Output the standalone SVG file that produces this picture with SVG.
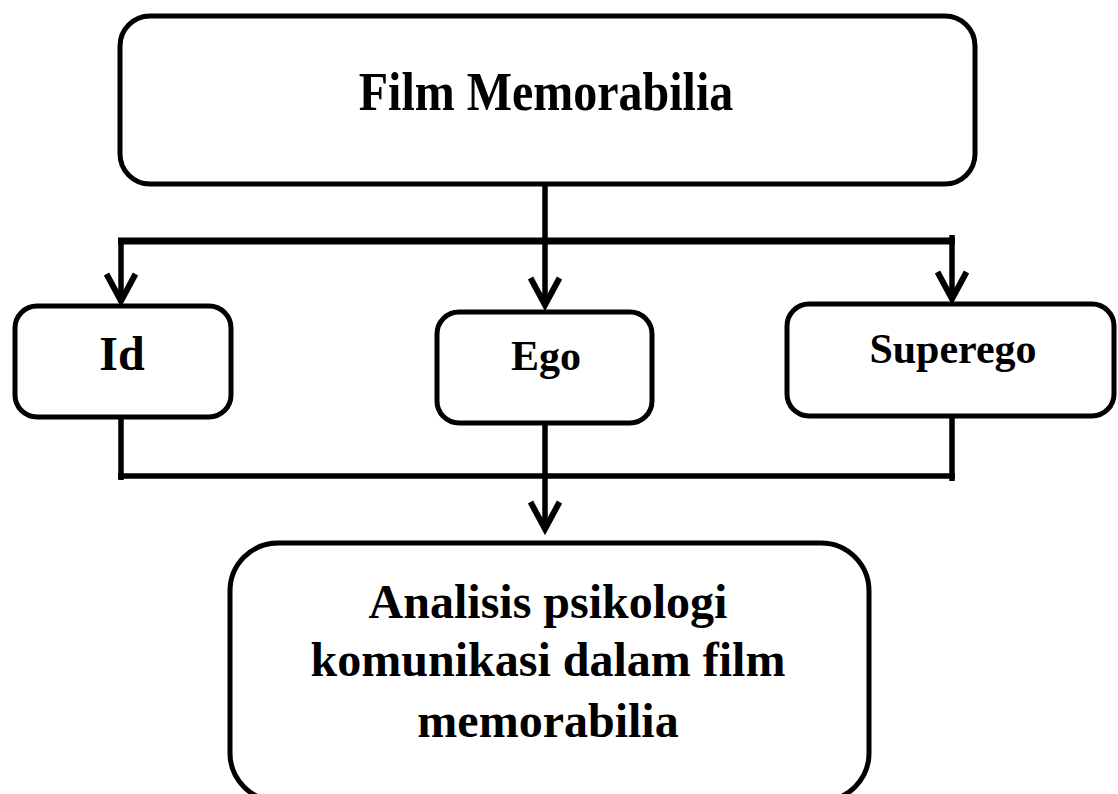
<svg xmlns="http://www.w3.org/2000/svg" width="1118" height="794" viewBox="0 0 1118 794">
<style>
.box{fill:#fff;stroke:#000;stroke-width:5}
.lbl{font-family:"Liberation Serif","Times New Roman",serif;font-weight:bold;fill:#000;text-anchor:middle}
.ln{fill:none;stroke:#000;stroke-width:5.5}
.arr{fill:none;stroke:#000;stroke-width:5.5;marker-end:url(#ah)}
</style>
<defs>
<marker id="ah" markerUnits="userSpaceOnUse" markerWidth="50" markerHeight="50" viewBox="-40 -25 50 50" refX="0" refY="0" orient="auto" overflow="visible">
<polyline points="-28,-14.5 -1,0 -28,14.5" fill="none" stroke="#000" stroke-width="6" stroke-linejoin="miter"/>
</marker>
</defs>
<rect x="0" y="0" width="1118" height="794" fill="#fff"/>
<g id="connectors">
<path class="ln" d="M545,184 V241"/>
<path class="ln" d="M118,241 H955" style="stroke-width:7"/>
<path class="arr" d="M545,241 V306"/>
<path class="arr" d="M121,238 V302"/>
<path class="arr" d="M952,235 V300"/>
<path class="ln" d="M121,417 V480"/>
<path class="ln" d="M952,416 V481"/>
<path class="ln" d="M118,476 H955"/>
<path class="ln" d="M545,423 V476"/>
<path class="arr" d="M545,476 V530"/>
</g>
<g id="node-film">
<rect class="box" x="120" y="16" width="855" height="168" rx="30"/>
<text class="lbl" transform="translate(546,110) scale(1,1.15)" x="0" y="0" font-size="48">Film Memorabilia</text>
</g>
<g id="node-id">
<rect class="box" x="15" y="306" width="216" height="111" rx="22"/>
<text class="lbl" x="122" y="370" font-size="48">Id</text>
</g>
<g id="node-ego">
<rect class="box" x="437" y="312" width="215" height="111" rx="22"/>
<text class="lbl" x="546" y="370" font-size="42">Ego</text>
</g>
<g id="node-superego">
<rect class="box" x="787" y="304" width="327" height="112" rx="22"/>
<text class="lbl" x="953" y="363" font-size="42">Superego</text>
</g>
<g id="node-analisis">
<rect class="box" x="230" y="543" width="639" height="258" rx="48"/>
<text class="lbl" x="548" y="618" font-size="48">Analisis psikologi</text>
<text class="lbl" x="548" y="676" font-size="48">komunikasi dalam film</text>
<text class="lbl" x="548" y="737" font-size="48">memorabilia</text>
</g>
</svg>
